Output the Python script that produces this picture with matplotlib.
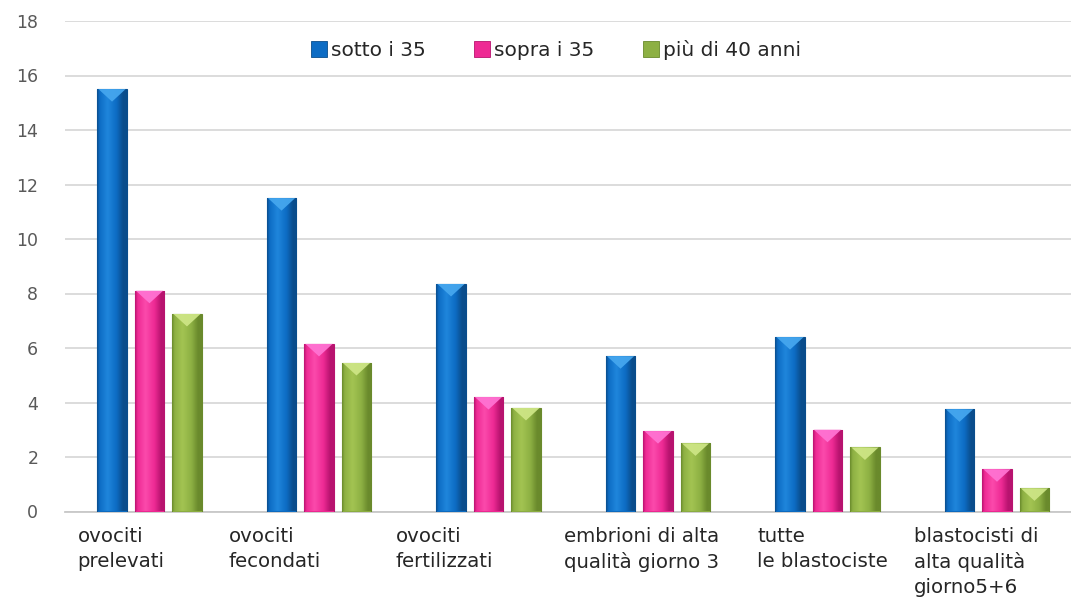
import numpy as np
import matplotlib
matplotlib.use("Agg")
import matplotlib.pyplot as plt
from matplotlib.colors import LinearSegmentedColormap
from matplotlib.patches import Polygon
from matplotlib.lines import Line2D
from matplotlib.transforms import blended_transform_factory, offset_copy

# ---- data -------------------------------------------------------------
categories = [
    "ovociti\nprelevati",
    "ovociti\nfecondati",
    "ovociti\nfertilizzati",
    "embrioni di alta\nqualità giorno 3",
    "tutte\nle blastociste",
    "blastocisti di\nalta qualità\ngiorno5+6",
]
series_names = ["sotto i 35", "sopra i 35", "più di 40 anni"]
sotto_35 = [15.5, 11.5, 8.35, 5.7, 6.4, 3.75]
sopra_35 = [8.1, 6.15, 4.2, 2.95, 3.0, 1.55]
oltre_40 = [7.25, 5.45, 3.8, 2.5, 2.35, 0.85]
y_ticks = list(range(0, 19, 2))

# ---- style ------------------------------------------------------------
plt.rcParams["font.family"] = ["DejaVu Sans"]
palette = {
    # dark edge, body, highlight, bevel top
    "sotto i 35": ("#0a4d8c", "#0d6cc4", "#1f86dc", "#45a6ee"),
    "sopra i 35": ("#b8136f", "#ee2a94", "#fb4aac", "#ff72d2"),
    "più di 40 anni": ("#6a8a2c", "#8db043", "#a3c452", "#cde585"),
}
bar_width = 0.174
bar_step = 0.221
label_shift = [-0.425, -0.534, -0.549, -0.552, -0.413, -0.49]

W, H, DPI = 1071, 601, 100
fig = plt.figure(figsize=(W / DPI, H / DPI), dpi=DPI)
fig.patch.set_facecolor("white")
ax = fig.add_axes([64.75 / W, (H - 511.5) / H, 1017 / W, 490.5 / H])

ymin, ymax = 0, 18
px_per_unit = fig.get_figheight() * fig.dpi * ax.get_position().height / (ymax - ymin)
bevel = 12.5 / px_per_unit

x = np.arange(len(categories))
all_series = [sotto_35, sopra_35, oltre_40]

for k, (name, values) in enumerate(zip(series_names, all_series)):
    dark, body, light, top = palette[name]
    cmap = LinearSegmentedColormap.from_list(
        name, [(0.0, dark), (0.08, body), (0.35, light), (0.65, body),
               (0.88, dark), (1.0, dark)])
    bars = ax.bar(x + (k - 1) * bar_step, values, width=bar_width,
                  color=body, edgecolor=dark, linewidth=0.8, zorder=3)
    grad = np.linspace(0, 1, 64).reshape(1, -1)
    for rect in bars:
        x0, w, h = rect.get_x(), rect.get_width(), rect.get_height()
        img = ax.imshow(grad, cmap=cmap, aspect="auto", origin="lower",
                        extent=(x0, x0 + w, 0, h), zorder=3.5,
                        interpolation="bicubic")
        img.set_clip_path(rect)
        d = min(bevel, h * 0.9)
        tri = Polygon([(x0 + w * 0.04, h), (x0 + w * 0.96, h),
                       (x0 + w / 2, h - d)], closed=True,
                      facecolor=top, edgecolor="none", alpha=0.95, zorder=4)
        ax.add_patch(tri)

ax.set_xlim(-0.5, len(categories) - 0.5)
ax.set_ylim(ymin, ymax)
ax.set_yticks(y_ticks)
ax.set_xticks([])
ax.yaxis.grid(True, color="#d9d9d9", linewidth=1.3, zorder=0)
ax.set_axisbelow(True)
for side in ("top", "right", "left"):
    ax.spines[side].set_visible(False)
ax.spines["bottom"].set_color("#c8c8c8")
ax.spines["bottom"].set_linewidth(1.3)
ax.tick_params(axis="y", length=0, pad=19, labelsize=12.5, labelcolor="#595959")

# category labels, left-aligned under each cluster
trans = offset_copy(blended_transform_factory(ax.transData, ax.transAxes),
                    fig=fig, x=0, y=-11, units="points")
for i, (lab, sh) in enumerate(zip(categories, label_shift)):
    ax.text(i + sh, 0, lab, transform=trans, ha="left", va="top",
            fontsize=14.2, color="#262626", linespacing=1.4)

handles = [Line2D([], [], marker="s", linestyle="none", markersize=12,
                  markerfacecolor=palette[n][1], markeredgecolor=palette[n][0],
                  markeredgewidth=0.6) for n in series_names]
ax.legend(handles, series_names, loc="center", bbox_to_anchor=(0.482, 0.941),
          ncol=3, frameon=False, fontsize=14.5, handletextpad=0.1,
          columnspacing=2.3, handlelength=1.0, labelcolor="#262626")

fig.savefig("out.png", dpi=DPI, facecolor="white")
